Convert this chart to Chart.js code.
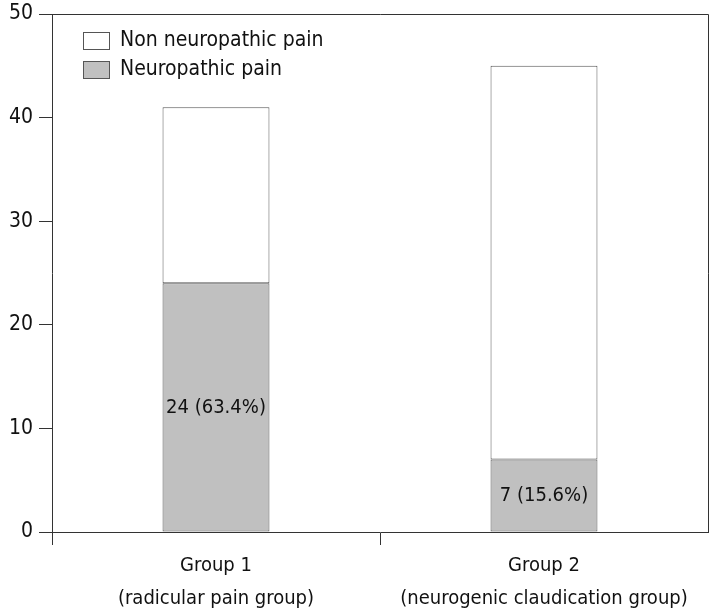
<!DOCTYPE html>
<html>
<head>
<meta charset="utf-8">
<script src="https://cdn.jsdelivr.net/npm/chart.js@4.4.1/dist/chart.umd.min.js"></script>
<style>
  html, body { margin: 0; padding: 0; background: #fff; }
  #wrap { width: 713px; height: 616px; }
</style>
</head>
<body>
<div id="wrap"><canvas id="chart"></canvas></div>
<script>
// Datos
const groups = [
  ['Group 1', '(radicular pain group)'],
  ['Group 2', '(neurogenic claudication group)']
];
const neuropathic = [24, 7];
const nonNeuropathic = [17, 38];
const neuropathicLabels = ['24 (63.4%)', '7 (15.6%)'];
const yTicks = [0, 10, 20, 30, 40, 50];

const FONT = '"DejaVu Sans Condensed", "Liberation Sans Narrow", Roboto, sans-serif';
const INK = '#111111';
const AXIS = '#333333';
const EDGE = '#555555';

/**
 * Marco: línea superior y derecha del área de la gráfica
 */
const framePlugin = {
  id: 'frame',
  afterDraw(chart) {
    const { ctx, chartArea: a } = chart;
    ctx.save();
    ctx.strokeStyle = AXIS;
    ctx.lineWidth = 1;
    ctx.beginPath();
    ctx.moveTo(a.left, Math.round(a.top) + 0.5);
    ctx.lineTo(Math.round(a.right) + 0.5, Math.round(a.top) + 0.5);
    ctx.lineTo(Math.round(a.right) + 0.5, a.bottom);
    ctx.stroke();
    ctx.restore();
  }
};

/**
 * Etiquetas dentro de las barras grises
 */
const barLabelPlugin = {
  id: 'barLabels',
  afterDatasetsDraw(chart) {
    const { ctx } = chart;
    const meta = chart.getDatasetMeta(0);
    ctx.save();
    ctx.fillStyle = INK;
    ctx.font = '20px ' + FONT;
    ctx.textAlign = 'center';
    ctx.textBaseline = 'middle';
    meta.data.forEach((bar, i) => {
      const cy = (bar.y + bar.base) / 2;
      ctx.fillText(neuropathicLabels[i], bar.x, cy);
    });
    ctx.restore();
  }
};

/**
 * Leyenda dentro del área (arriba a la izquierda)
 */
const insideLegendPlugin = {
  id: 'insideLegend',
  afterDraw(chart) {
    const { ctx } = chart;
    const items = chart.data.datasets.slice().reverse();
    ctx.save();
    ctx.font = '21px ' + FONT;
    ctx.textBaseline = 'middle';
    items.forEach((ds, i) => {
      const y = 32 + i * 28.5;
      ctx.fillStyle = ds.backgroundColor;
      ctx.fillRect(83.5, Math.round(y) + 0.5, 26, 17);
      ctx.strokeStyle = EDGE;
      ctx.lineWidth = 1;
      ctx.strokeRect(83.5, Math.round(y) + 0.5, 26, 17);
      ctx.fillStyle = INK;
      ctx.fillText(ds.label, 120, y + 9);
    });
    ctx.restore();
  }
};

new Chart(document.getElementById('chart'), {
  type: 'bar',
  data: {
    labels: groups,
    datasets: [
      {
        label: 'Neuropathic pain',
        data: neuropathic,
        backgroundColor: '#c0c0c0',
        borderColor: EDGE,
        borderWidth: 1,
        borderSkipped: false
      },
      {
        label: 'Non neuropathic pain',
        data: nonNeuropathic,
        backgroundColor: '#ffffff',
        borderColor: EDGE,
        borderWidth: 1,
        borderSkipped: false
      }
    ]
  },
  options: {
    responsive: true,
    maintainAspectRatio: false,
    animation: false,
    layout: { padding: { top: 14, right: 5, left: 0, bottom: 0 } },
    plugins: {
      legend: { display: false },
      tooltip: { enabled: false }
    },
    datasets: {
      bar: { categoryPercentage: 1, barPercentage: 0.326 }
    },
    scales: {
      x: {
        stacked: true,
        grid: {
          offset: true,
          drawOnChartArea: false,
          tickLength: 13,
          // la última línea (borde derecho) no lleva marca
          color: (c) => (c.type === 'tick' && c.index < groups.length ? AXIS : 'rgba(0,0,0,0)')
        },
        border: { display: true, color: AXIS, width: 1 },
        ticks: {
          color: INK,
          font: { family: FONT, size: 20, lineHeight: 1.65 },
          padding: 4,
          maxRotation: 0
        },
        afterFit(scale) { scale.height = 84; }
      },
      y: {
        stacked: true,
        min: yTicks[0],
        max: yTicks[yTicks.length - 1],
        afterBuildTicks(scale) { scale.ticks = yTicks.map(v => ({ value: v })); },
        grid: {
          drawOnChartArea: false,
          tickLength: 13,
          color: AXIS
        },
        border: { display: true, color: AXIS, width: 1 },
        ticks: {
          color: INK,
          font: { family: FONT, size: 21 },
          padding: 6
        },
        afterFit(scale) {
          scale.width = 52;
          scale.paddingTop = 0;
          scale.paddingBottom = 0;
        }
      }
    }
  },
  plugins: [framePlugin, barLabelPlugin, insideLegendPlugin]
});
</script>
</body>
</html>
